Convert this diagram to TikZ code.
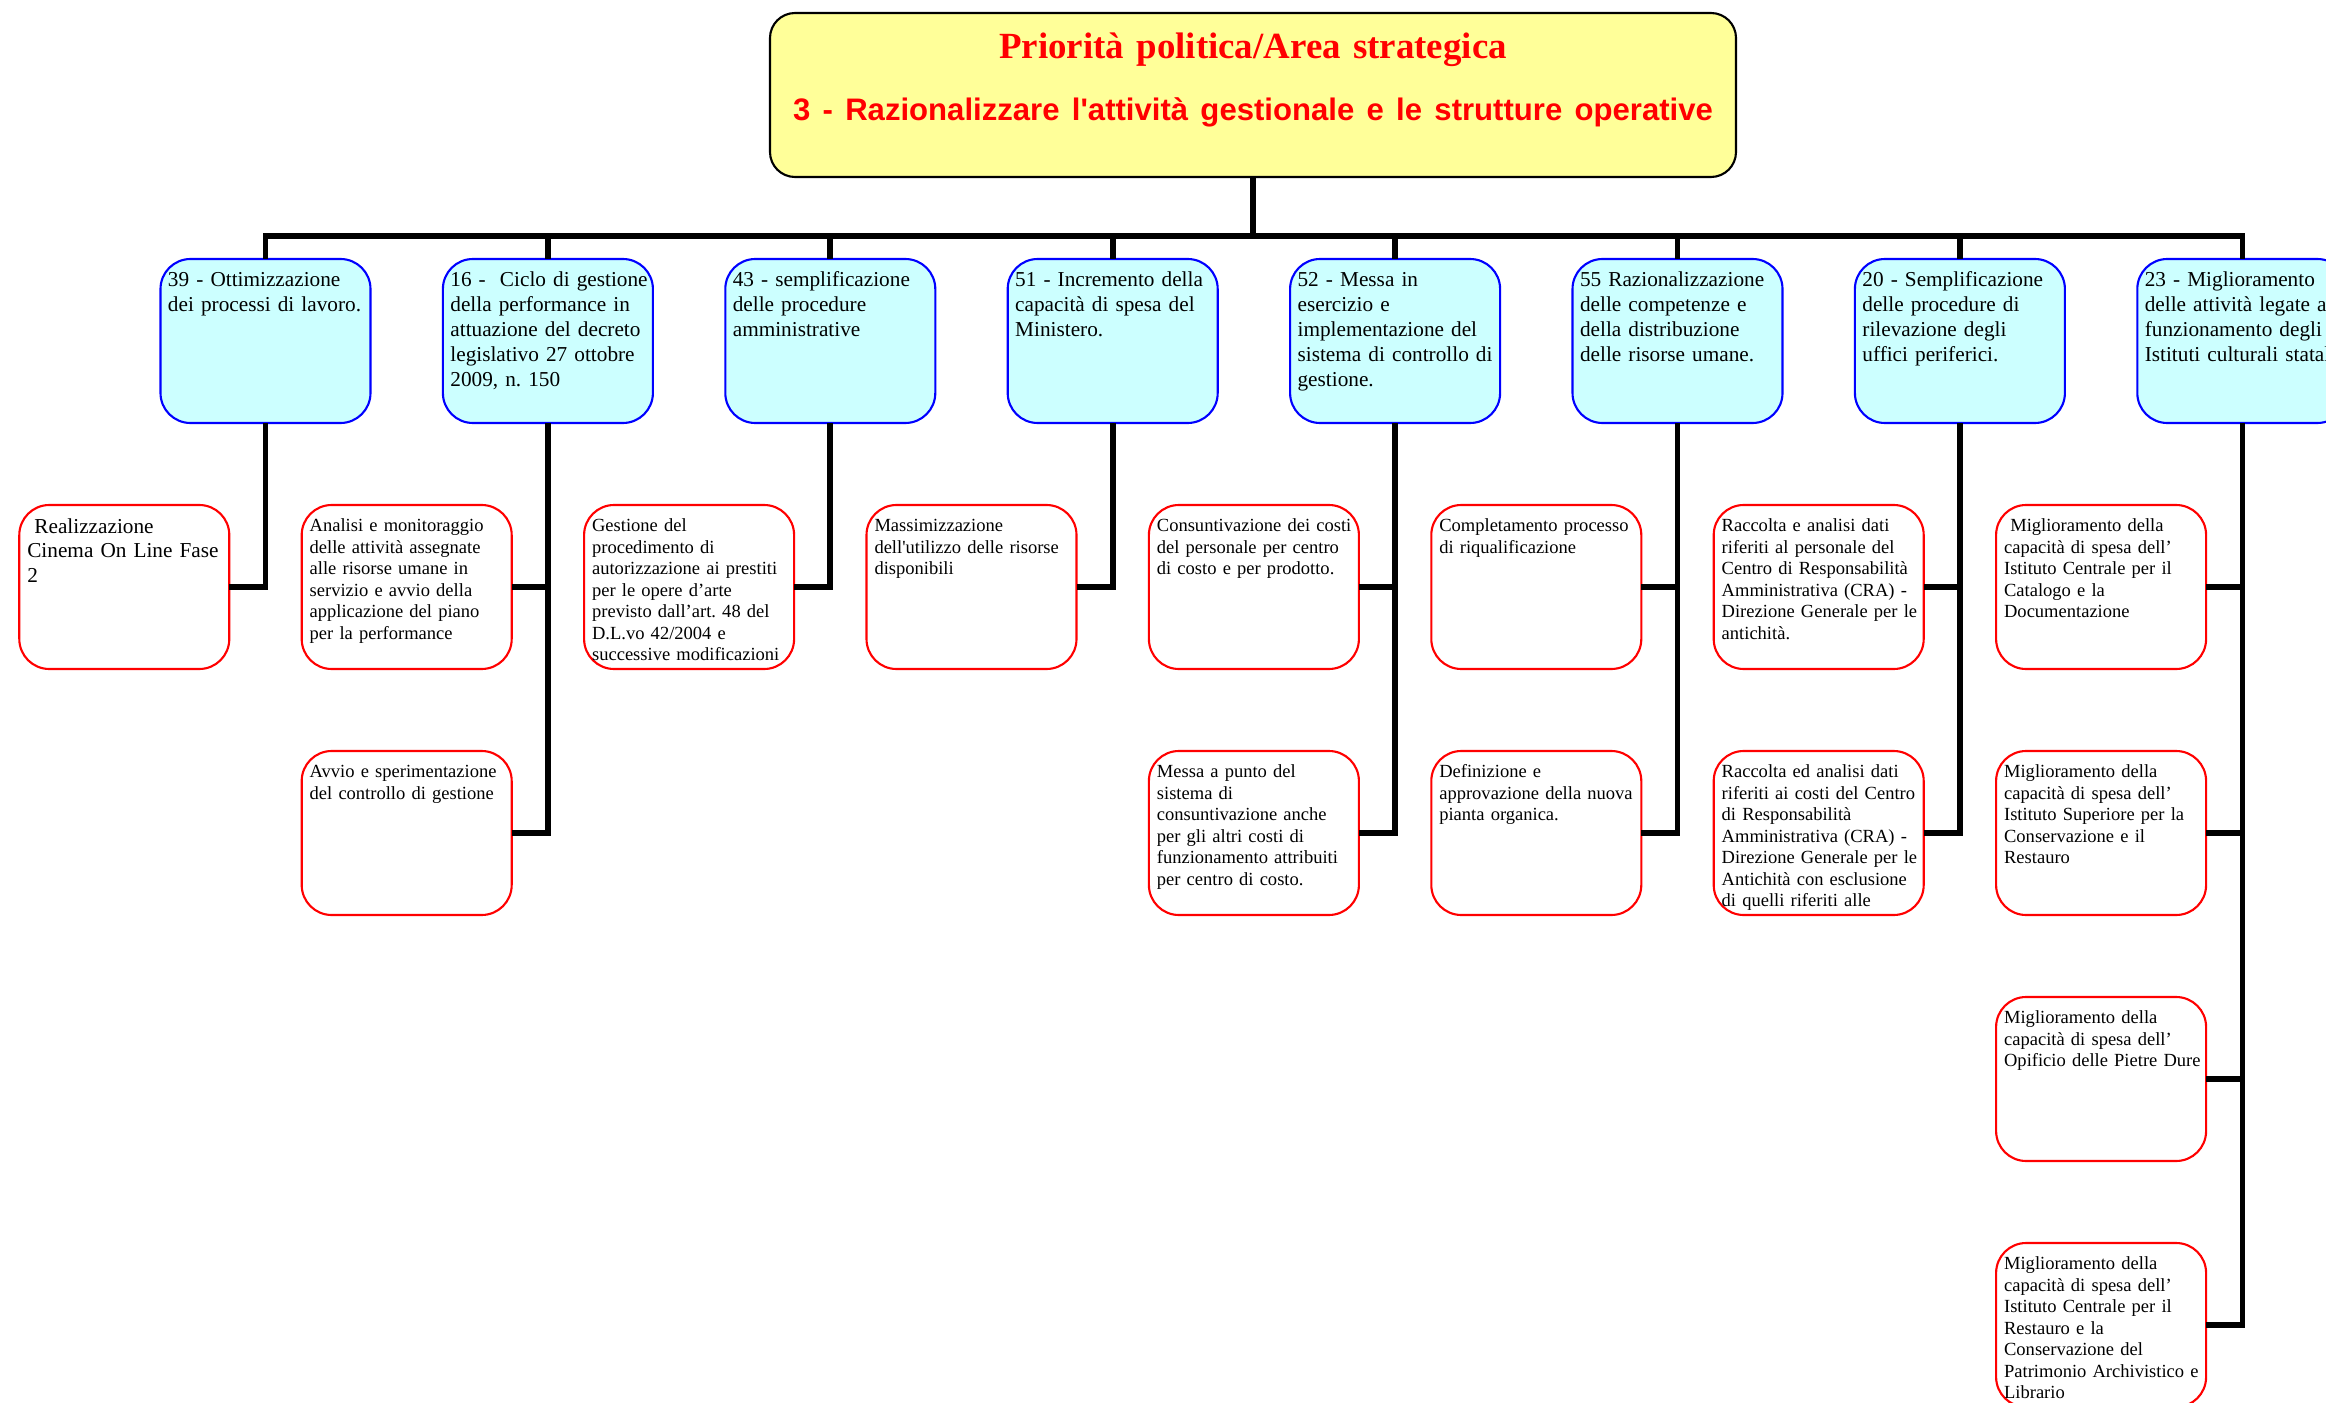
\documentclass[tikz,border=0pt]{standalone}
\usepackage{fontspec}
\setmainfont{Liberation Serif}
\setsansfont{Liberation Sans}
\usepackage{tikz}
\usetikzlibrary{positioning}
\definecolor{areayellow}{RGB}{255,255,153}
\definecolor{objcyan}{RGB}{204,255,255}
\definecolor{objblue}{RGB}{0,0,255}
\definecolor{actred}{RGB}{255,0,0}
\frenchspacing

\begin{document}
\begin{tikzpicture}[
  node distance=0.82cm and 0.724cm,
  area/.style={draw=black, line width=0.6pt, fill=areayellow, rounded corners=0.25cm,
               text width=9.5cm, inner xsep=0.08cm, inner ysep=0pt, outer sep=0pt,
               text height=0.46cm, text depth=1.18cm, align=center,
               text=actred, font=\fontsize{10.5}{17.6}\selectfont\bfseries},
  obj/.style={draw=objblue, line width=0.6pt, fill=objcyan, rounded corners=0.3cm,
              text width=2.1cm, inner xsep=0pt, inner ysep=0pt, outer sep=0pt,
              text height=0.28cm, text depth=1.36cm, align=left,
              execute at begin node={\leftskip=0.075cm},
              font=\fontsize{6.05}{7.07}\selectfont},
  act/.style={draw=actred, line width=0.6pt, fill=white, rounded corners=0.3cm,
              text width=2.1cm, inner xsep=0pt, inner ysep=0pt, outer sep=0pt,
              text height=0.265cm, text depth=1.375cm, align=left,
              execute at begin node={\leftskip=0.08cm},
              font=\fontsize{5.27}{6.12}\selectfont},
  link/.style={draw=black, line width=1.6pt}
]
  \useasboundingbox (0,0) rectangle (23.26,-14.03);
  \clip (0,0) rectangle (23.26,-14.03);

  % area strategica
  \node[area] (priorita) at (12.53,-0.95)
    {Priorità politica/Area strategica\\{\sffamily\fontsize{8.85}{17.6}\selectfont 3 - Razionalizzare l\textquotesingle attività gestionale e le strutture operative}};
  \coordinate[below=0.59cm of priorita] (hub);

  % obiettivi
  \node[obj] (ottim) at (2.655,-3.41) {39 - Ottimizzazione\\dei processi di lavoro.};
  \node[obj, right=of ottim] (ciclo) {16 -~ Ciclo di gestione\\della performance in\\attuazione del decreto\\legislativo 27 ottobre\\2009, n. 150};
  \node[obj, right=of ciclo] (sempl) {43 - semplificazione\\delle procedure\\amministrative};
  \node[obj, right=of sempl] (spesa) {51 - Incremento della\\capacità di spesa del\\Ministero.};
  \node[obj, right=of spesa] (contr) {52 - Messa in\\esercizio e\\implementazione del\\sistema di controllo di\\gestione.};
  \node[obj, right=of contr] (razion) {55 Razionalizzazione\\delle competenze e\\della distribuzione\\delle risorse umane.};
  \node[obj, right=of razion] (rilev) {20 - Semplificazione\\delle procedure di\\rilevazione degli\\uffici periferici.};
  \node[obj, right=of rilev] (istit) {23 - Miglioramento\\delle attività legate al\\funzionamento degli\\Istituti culturali statali};

  % azioni
  \node[act, below=of ottim, xshift=-1.412cm, text height=0.28cm, text depth=1.36cm,
        font=\fontsize{6.05}{7.07}\selectfont] (cinema) {~Realizzazione\\Cinema On Line Fase\\2};
  \node[act, below=of ciclo, xshift=-1.412cm] (analisi) {Analisi e monitoraggio\\delle attività assegnate\\alle risorse umane in\\servizio e avvio della\\applicazione del piano\\per la performance};
  \node[act, below=of analisi] (avvio) {Avvio e sperimentazione\\del controllo di gestione};
  \node[act, below=of sempl, xshift=-1.412cm] (prestiti) {Gestione del\\procedimento di\\autorizzazione ai prestiti\\per le opere d’arte\\previsto dall’art. 48 del\\D.L.vo 42/2004 e\\successive modificazioni};
  \node[act, below=of spesa, xshift=-1.412cm] (risorse) {Massimizzazione\\dell\textquotesingle utilizzo delle risorse\\disponibili};
  \node[act, below=of contr, xshift=-1.412cm] (costi) {Consuntivazione dei costi\\del personale per centro\\di costo e per prodotto.};
  \node[act, below=of costi] (messa) {Messa a punto del\\sistema di\\consuntivazione anche\\per gli altri costi di\\funzionamento attribuiti\\per centro di costo.};
  \node[act, below=of razion, xshift=-1.412cm] (riqual) {Completamento processo\\di riqualificazione};
  \node[act, below=of riqual] (pianta) {Definizione e\\approvazione della nuova\\pianta organica.};
  \node[act, below=of rilev, xshift=-1.412cm] (craper) {Raccolta e analisi dati\\riferiti al personale del\\Centro di Responsabilità\\Amministrativa (CRA) -\\Direzione Generale per le\\antichità.};
  \node[act, below=of craper] (cracost) {Raccolta ed analisi dati\\riferiti ai costi del Centro\\di Responsabilità\\Amministrativa (CRA) -\\Direzione Generale per le\\Antichità con esclusione\\di quelli riferiti alle};
  \node[act, below=of istit, xshift=-1.412cm] (catalogo) {~Miglioramento della\\capacità di spesa dell’\\Istituto Centrale per il\\Catalogo e la\\Documentazione};
  \node[act, below=of catalogo] (iscr) {Miglioramento della\\capacità di spesa dell’\\Istituto Superiore per la\\Conservazione e il\\Restauro};
  \node[act, below=of iscr] (opificio) {Miglioramento della\\capacità di spesa dell’\\Opificio delle Pietre Dure};
  \node[act, below=of opificio] (icrcpal) {Miglioramento della\\capacità di spesa dell’\\Istituto Centrale per il\\Restauro e la\\Conservazione del\\Patrimonio Archivistico e\\Librario};

  % collegamenti
  \draw[link] (priorita.south) -- (hub);
  \draw[link] (hub) -| (ottim.north) (hub) -| (ciclo.north) (hub) -| (sempl.north)
    (hub) -| (spesa.north) (hub) -| (contr.north) (hub) -| (razion.north)
    (hub) -| (rilev.north) (hub) -| (istit.north);
  \draw[link] (ottim.south) |- (cinema.east);
  \draw[link] (ciclo.south) |- (analisi.east) (ciclo.south) |- (avvio.east);
  \draw[link] (sempl.south) |- (prestiti.east);
  \draw[link] (spesa.south) |- (risorse.east);
  \draw[link] (contr.south) |- (costi.east) (contr.south) |- (messa.east);
  \draw[link] (razion.south) |- (riqual.east) (razion.south) |- (pianta.east);
  \draw[link] (rilev.south) |- (craper.east) (rilev.south) |- (cracost.east);
  \draw[link] (istit.south) |- (catalogo.east) (istit.south) |- (iscr.east)
    (istit.south) |- (opificio.east) (istit.south) |- (icrcpal.east);
\end{tikzpicture}
\end{document}
